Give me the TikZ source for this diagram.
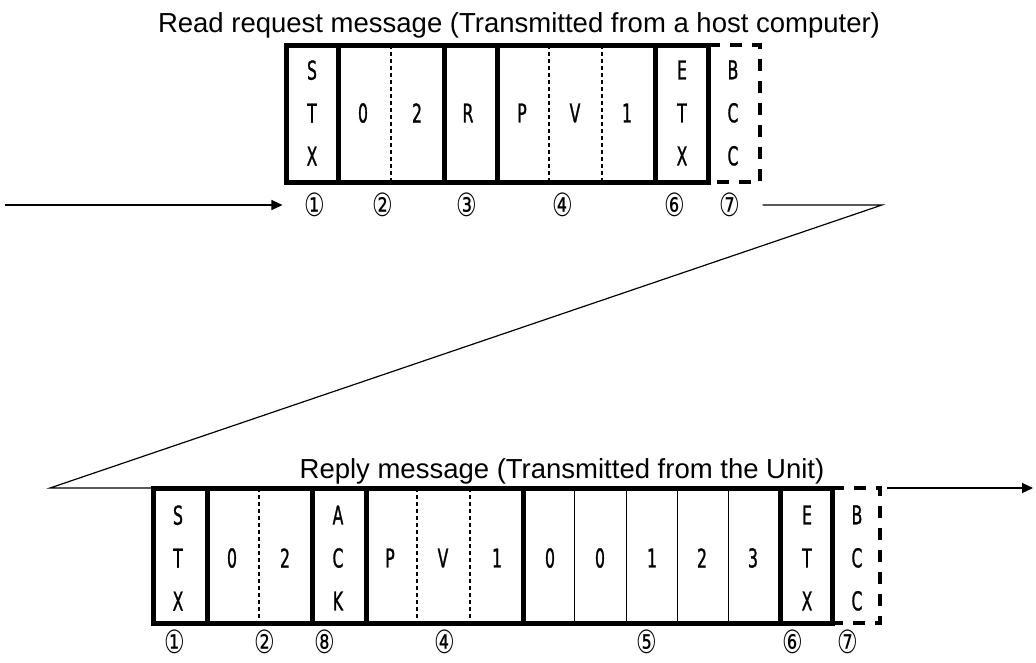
\documentclass[tikz,border=0pt]{standalone}
\usepackage{fontspec}
\setmainfont{Liberation Sans}
\newfontfamily\cellfont[FakeStretch=0.6, FakeBold=1]{DejaVu Sans}
\newfontfamily\circfont[FakeStretch=0.72]{DejaVu Sans}
\usetikzlibrary{arrows.meta}
\usetikzlibrary{calc}
\tikzset{
  framebox/.style={draw, line width=5pt, outer sep=0pt, inner sep=0pt, anchor=north west},
  solidbar/.style={line width=5pt},
  thinbar/.style={line width=1pt},
  dotbar/.style={line width=1.5pt, dash pattern=on 4pt off 3pt},
  bccline/.style={line width=4.5pt, dash pattern=on 12pt off 10pt},
  cellchar/.style={font=\cellfont\fontsize{26}{43}\selectfont, align=center, inner sep=0pt},
  fieldnum/.style={font=\circfont\fontsize{32}{32}\selectfont, inner sep=0pt},
  msgtitle/.style={font=\fontsize{27.5}{27.5}\selectfont, inner sep=0pt, anchor=base},
  msgline/.style={line width=1.2pt},
  msgarrow/.style={msgline, -{Triangle[length=11pt,width=10pt]}},
}

\begin{document}
\begin{tikzpicture}[x=1pt, y=-1pt]
\useasboundingbox (0,0) rectangle (1036,662);

%%%%%%%%%%%%%%%%%%%%%%%%%%%%%%%%%%%%%%%%%%%%%%%%%%%%%%%%%%%%%% Setup
\coordinate (R) at (286, 45);
\coordinate (A) at (153, 488);

%%%%%%%%%%%%%%%%%%%%%%%%%%%%%%%%%%%%%%%%%%%%%%%%%%%%%%%%%%%%%% Read request

\node[msgtitle] (reqtitle) at (519, 32) {Read request message (Transmitted from a host computer)};

\node[framebox, minimum width=422pt, minimum height=137pt] (reqbox) at (R) {};

\draw[solidbar] ($(R)+(52, 0)$)  -- ($(R)+(52, 137)$);
\draw[dotbar]   ($(R)+(105, 0)$) -- ($(R)+(105, 137)$);
\draw[solidbar] ($(R)+(158, 0)$) -- ($(R)+(158, 137)$);
\draw[solidbar] ($(R)+(211, 0)$) -- ($(R)+(211, 137)$);
\draw[dotbar]   ($(R)+(263, 0)$) -- ($(R)+(263, 137)$);
\draw[dotbar]   ($(R)+(316, 0)$) -- ($(R)+(316, 137)$);
\draw[solidbar] ($(R)+(369, 0)$) -- ($(R)+(369, 137)$);

% BCC is optional
\draw[bccline] ($(R)+(422, 0)$) -- ($(R)+(474, 0)$) -- ($(R)+(474, 137)$) -- ($(R)+(422, 137)$);

\node[cellchar] (tstx) at ($(R)+(26, 68)$)  {S\\T\\X};
\node[cellchar] (tad1) at ($(R)+(77, 68)$)  {0};
\node[cellchar] (tad2) at ($(R)+(131, 68)$) {2};
\node[cellchar] (tcmd) at ($(R)+(182, 68)$) {R};
\node[cellchar] (tid1) at ($(R)+(236, 68)$) {P};
\node[cellchar] (tid2) at ($(R)+(289, 68)$) {V};
\node[cellchar] (tid3) at ($(R)+(341, 68)$) {1};
\node[cellchar] (tetx) at ($(R)+(396, 68)$) {E\\T\\X};
\node[cellchar] (tbcc) at ($(R)+(447, 68)$) {B\\C\\C};

\node[fieldnum] (tc1) at ($(R)+(29, 160)$)  {①};
\node[fieldnum] (tc2) at ($(R)+(97, 160)$)  {②};
\node[fieldnum] (tc3) at ($(R)+(181, 160)$) {③};
\node[fieldnum] (tc4) at ($(R)+(277, 160)$) {④};
\node[fieldnum] (tc6) at ($(R)+(389, 160)$) {⑥};
\node[fieldnum] (tc7) at ($(R)+(444, 160)$) {⑦};

%%%%%%%%%%%%%%%%%%%%%%%%%%%%%%%%%%%%%%%%%%%%%%%%%%%%%%%%%%%%%% Reply

\node[msgtitle] (reptitle) at (562, 478) {Reply message (Transmitted from the Unit)};

\node[framebox, minimum width=679pt, minimum height=135pt] (repbox) at (A) {};

\draw[solidbar] ($(A)+(54, 0)$)  -- ($(A)+(54, 135)$);
\draw[dotbar]   ($(A)+(106, 0)$) -- ($(A)+(106, 135)$);
\draw[solidbar] ($(A)+(159, 0)$) -- ($(A)+(159, 135)$);
\draw[solidbar] ($(A)+(213, 0)$) -- ($(A)+(213, 135)$);
\draw[dotbar]   ($(A)+(264, 0)$) -- ($(A)+(264, 135)$);
\draw[dotbar]   ($(A)+(317, 0)$) -- ($(A)+(317, 135)$);
\draw[solidbar] ($(A)+(370, 0)$) -- ($(A)+(370, 135)$);
\draw[thinbar]  ($(A)+(421, 0)$) -- ($(A)+(421, 135)$);
\draw[thinbar]  ($(A)+(473, 0)$) -- ($(A)+(473, 135)$);
\draw[thinbar]  ($(A)+(524, 0)$) -- ($(A)+(524, 135)$);
\draw[thinbar]  ($(A)+(575, 0)$) -- ($(A)+(575, 135)$);
\draw[solidbar] ($(A)+(627, 0)$) -- ($(A)+(627, 135)$);

% BCC is optional
\draw[bccline] ($(A)+(679, 0)$) -- ($(A)+(727, 0)$) -- ($(A)+(727, 135)$) -- ($(A)+(679, 135)$);

\node[cellchar] (bstx) at ($(A)+(25, 70)$)  {S\\T\\X};
\node[cellchar] (bad1) at ($(A)+(79, 70)$)  {0};
\node[cellchar] (bad2) at ($(A)+(132, 70)$) {2};
\node[cellchar] (back) at ($(A)+(185, 70)$) {A\\C\\K};
\node[cellchar] (bid1) at ($(A)+(237, 70)$) {P};
\node[cellchar] (bid2) at ($(A)+(290, 70)$) {V};
\node[cellchar] (bid3) at ($(A)+(344, 70)$) {1};
\node[cellchar] (bdt1) at ($(A)+(397, 70)$) {0};
\node[cellchar] (bdt2) at ($(A)+(447, 70)$) {0};
\node[cellchar] (bdt3) at ($(A)+(499, 70)$) {1};
\node[cellchar] (bdt4) at ($(A)+(549, 70)$) {2};
\node[cellchar] (bdt5) at ($(A)+(600, 70)$) {3};
\node[cellchar] (betx) at ($(A)+(654, 70)$) {E\\T\\X};
\node[cellchar] (bbcc) at ($(A)+(704, 70)$) {B\\C\\C};

\node[fieldnum] (bc1) at ($(A)+(22, 154)$)  {①};
\node[fieldnum] (bc2) at ($(A)+(112, 154)$) {②};
\node[fieldnum] (bc8) at ($(A)+(172, 154)$) {⑧};
\node[fieldnum] (bc4) at ($(A)+(292, 154)$) {④};
\node[fieldnum] (bc5) at ($(A)+(494, 154)$) {⑤};
\node[fieldnum] (bc6) at ($(A)+(640, 154)$) {⑥};
\node[fieldnum] (bc7) at ($(A)+(695, 154)$) {⑦};

%%%%%%%%%%%%%%%%%%%%%%%%%%%%%%%%%%%%%%%%%%%%%%%%%%%%%%%%%%%%%% Flow

\coordinate (hostin)  at (5, 205);
\coordinate (turnr)   at (882, 205);
\coordinate (turnl)   at (50, 488);
\coordinate (repend)  at ($(A)+(727, 0)$);
\coordinate (hostout) at (1033, 488);

\draw[msgarrow, shorten >=22pt] (hostin) -- (tc1.west);
\draw[msgline, shorten <=22pt] (tc7.east) -- (turnr) -- (turnl) -- (repbox.north west);
\draw[msgarrow, shorten <=7pt] (repend) -- (hostout);

\end{tikzpicture}
\end{document}
